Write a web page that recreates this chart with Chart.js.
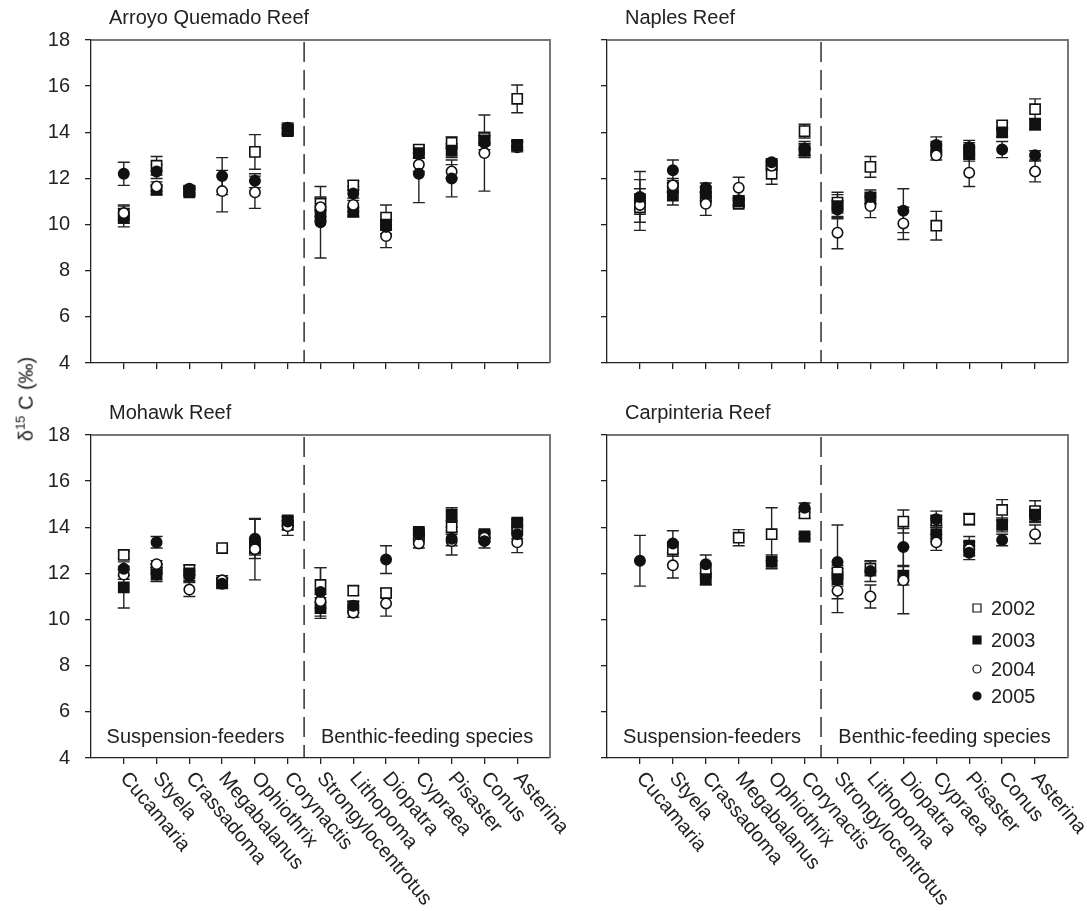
<!DOCTYPE html>
<html>
<head>
<meta charset="utf-8">
<script src="https://cdn.jsdelivr.net/npm/chart.js@4.4.0/dist/chart.umd.min.js"></script>
<style>
  body { margin: 0; background: #fff; }
  #wrap { position: relative; width: 1087px; height: 911px; overflow: hidden; }
  canvas { position: absolute; }
  #ylab {
    position: absolute; left: 25px; top: 399px;
    transform: translate(-50%, -50%) rotate(-90deg);
    font: 20px "Liberation Sans", Arial, sans-serif; color: #222; white-space: nowrap;
  }
  #ylab sup { font-size: 13px; }
</style>
</head>
<body>
<div id="wrap">
  <canvas id="c1" width="580" height="400" style="left:0;top:0"></canvas>
  <canvas id="c2" width="500" height="400" style="left:587px;top:0"></canvas>
  <canvas id="c3" width="580" height="516" style="left:0;top:395px"></canvas>
  <canvas id="c4" width="500" height="516" style="left:587px;top:395px"></canvas>
  <div id="ylab">&delta;<sup>15</sup> C (&permil;)</div>
</div>
<script>
// --------------------------------------------------
const species = ["Cucamaria", "Styela", "Crassadoma", "Megabalanus", "Ophiothrix", "Corynactis",
  "Strongylocentrotus", "Lithopoma", "Diopatra", "Cypraea", "Pisaster", "Conus", "Asterina"];
const years = ["2002", "2003", "2004", "2005"];
const yTicks = [4, 6, 8, 10, 12, 14, 16, 18];

// Arroyo Quemado Reef
const aq2002 = [10.45, 12.55, 11.45, null, 13.15, 14.1, 10.9, 11.7, 10.3, 13.25, 13.55, 13.75, 15.45];
const aq2002e = [0.4, 0.4, 0.15, null, 0.75, 0.2, 0.3, 0.2, 0.55, 0.15, 0.25, 0.25, 0.6];
const aq2003 = [10.3, 11.5, 11.4, null, null, 14.05, 10.4, 10.55, 10.0, 13.1, 13.2, 13.65, 13.45];
const aq2003e = [0.4, 0.2, 0.15, null, null, 0.15, 0.25, 0.2, 0.2, 0.2, 0.3, 0.2, 0.2];
const aq2004 = [10.5, 11.65, 11.5, 11.45, 11.4, 14.15, 10.75, 10.85, 9.5, 12.6, 12.3, 13.1, 13.35];
const aq2004e = [0.3, 0.2, 0.15, 0.9, 0.7, 0.2, 0.4, 0.3, 0.5, 0.3, 0.3, 1.65, 0.2];
const aq2005 = [12.2, 12.3, 11.55, 12.1, 11.9, 14.2, 10.1, 11.35, 9.9, 12.2, 12.0, 13.55, 13.4];
const aq2005e = [0.5, 0.3, 0.15, 0.8, 0.3, 0.2, 1.55, 0.3, 0.3, 1.25, 0.8, 0.3, 0.2];

// Naples Reef
const np2002 = [10.75, 11.6, 11.2, 10.9, 12.2, 14.05, 10.95, 12.5, null, 9.95, 13.25, 14.3, 15.0];
const np2002e = [0.3, 0.2, 0.2, 0.15, 0.45, 0.3, 0.45, 0.45, null, 0.62, 0.3, 0.15, 0.45];
const np2003 = [11.1, 11.25, 11.35, 11.0, 12.6, 13.2, 10.8, 11.15, null, 13.3, 13.05, 14.0, 14.35];
const np2003e = [0.45, 0.4, 0.3, 0.15, 0.15, 0.3, 0.5, 0.25, null, 0.3, 0.3, 0.2, 0.25];
const np2004 = [10.85, 11.7, 10.9, 11.6, 12.55, 13.25, 9.65, 10.8, 10.05, 13.0, 12.25, null, 12.3];
const np2004e = [1.1, 0.3, 0.5, 0.45, 0.2, 0.25, 0.7, 0.5, 0.7, 0.2, 0.6, null, 0.45];
const np2005 = [11.2, 12.35, 11.6, 11.05, 12.7, 13.3, 10.65, 11.2, 10.6, 13.45, 13.35, 13.25, 13.0];
const np2005e = [1.1, 0.45, 0.2, 0.2, 0.15, 0.3, 0.4, 0.3, 0.95, 0.35, 0.3, 0.35, 0.2];

// Mohawk Reef
const mh2002 = [12.8, 12.2, 12.15, 13.1, 13.1, 14.1, 11.5, 11.25, 11.15, 13.6, 14.0, 13.6, 14.0];
const mh2002e = [0.15, 0.2, 0.2, 0.1, 0.3, 0.2, 0.75, 0.2, 0.2, 0.2, 0.3, 0.2, 0.3];
const mh2003 = [11.4, 11.95, 12.0, 11.6, 13.2, 14.3, 10.5, 10.55, null, 13.8, 14.55, 13.7, 14.2];
const mh2003e = [0.9, 0.3, 0.35, 0.2, 0.3, 0.15, 0.45, 0.25, null, 0.15, 0.3, 0.15, 0.15];
const mh2004 = [11.95, 12.4, 11.3, 11.7, 13.05, 14.05, 10.8, 10.3, 10.7, 13.3, 13.4, 13.55, 13.35];
const mh2004e = [0.2, 0.15, 0.3, 0.2, 1.33, 0.4, 0.3, 0.2, 0.55, 0.2, 0.6, 0.2, 0.45];
const mh2005 = [12.2, 13.35, 11.9, 11.55, 13.5, 14.25, 11.2, 10.6, 12.6, 13.7, 13.5, 13.4, 13.7];
const mh2005e = [0.3, 0.25, 0.2, 0.2, 0.85, 0.2, 1.05, 0.2, 0.6, 0.2, 0.3, 0.3, 0.2];

// Carpinteria Reef
const cp2002 = [null, 13.05, 12.1, 13.55, 13.7, 14.6, 12.05, 12.2, 14.25, 14.3, 14.35, 14.75, 14.7];
const cp2002e = [null, 0.3, 0.3, 0.35, 1.15, 0.2, 0.3, 0.3, 0.5, 0.2, 0.25, 0.45, 0.45];
const cp2003 = [null, null, 11.75, null, 12.5, 13.6, 11.75, null, 11.9, 13.7, 13.2, 14.1, 14.55];
const cp2003e = [null, null, 0.25, null, 0.3, 0.1, 0.3, null, 0.4, 0.3, 0.4, 0.3, 0.3];
const cp2004 = [null, 12.35, null, null, null, null, 11.25, 11.0, 11.7, 13.35, 13.05, null, 13.7];
const cp2004e = [null, 0.55, null, null, null, null, 0.95, 0.5, 1.45, 0.35, 0.3, null, 0.4];
const cp2005 = [12.55, 13.3, 12.4, null, null, 14.85, 12.5, 12.1, 13.15, 14.35, 12.9, 13.45, 14.5];
const cp2005e = [1.1, 0.55, 0.4, null, null, 0.2, 1.6, 0.45, 0.8, 0.35, 0.3, 0.25, 0.3];

// --------------------------------------------------
Chart.defaults.font.family = '"Liberation Sans", Arial, sans-serif';
Chart.defaults.font.size = 20;
Chart.defaults.color = "#222";

const ink = "#111";
const styles = [
  { pointStyle: "rect", radius: 7.2, fill: "#fff" },
  { pointStyle: "rect", radius: 7.2, fill: ink },
  { pointStyle: "circle", radius: 5.2, fill: "#fff" },
  { pointStyle: "circle", radius: 5.2, fill: ink },
];

function points(vals, errs) {
  return vals
    .map((v, i) => (v === null ? null : { x: i, y: v, e: errs[i] }))
    .filter((p) => p);
}

// error bars drawn behind the markers
const errorBars = {
  id: "errorBars",
  beforeDatasetsDraw(chart) {
    const { ctx, scales } = chart;
    ctx.save();
    ctx.strokeStyle = "#222";
    ctx.lineWidth = 1.4;
    chart.data.datasets.forEach((ds) => {
      ds.data.forEach((p) => {
        if (!p.e) return;
        const px = scales.x.getPixelForValue(p.x);
        const top = scales.y.getPixelForValue(p.y + p.e);
        const bot = scales.y.getPixelForValue(p.y - p.e);
        ctx.beginPath();
        ctx.moveTo(px, top); ctx.lineTo(px, bot);
        ctx.moveTo(px - 6, top); ctx.lineTo(px + 6, top);
        ctx.moveTo(px - 6, bot); ctx.lineTo(px + 6, bot);
        ctx.stroke();
      });
    });
    ctx.restore();
  },
};

// frame, divider, title, group names, species labels, legend
const panelDecor = {
  id: "panelDecor",
  beforeDatasetsDraw(chart, args, opts) {
    const { ctx, chartArea: a, scales } = chart;
    ctx.save();
    ctx.strokeStyle = "#777";
    ctx.lineWidth = 2;
    ctx.beginPath();
    ctx.moveTo(a.left, a.top); ctx.lineTo(a.right, a.top); ctx.lineTo(a.right, a.bottom);
    ctx.stroke();
    const dx = scales.x.getPixelForValue(5.5);
    ctx.strokeStyle = "#222";
    ctx.lineWidth = 1.4;
    ctx.setLineDash([20, 8]);
    ctx.beginPath();
    ctx.moveTo(dx, a.top + 2); ctx.lineTo(dx, a.bottom);
    ctx.stroke();
    ctx.restore();
  },
  afterDraw(chart, args, opts) {
    const { ctx, chartArea: a, scales } = chart;
    ctx.save();
    ctx.fillStyle = "#222";
    ctx.font = '20px "Liberation Sans", Arial, sans-serif';
    ctx.textBaseline = "middle";
    ctx.textAlign = "left";
    ctx.fillText(opts.title, a.left + 18, a.top - 22);

    if (opts.bottom) {
      const dx = scales.x.getPixelForValue(5.5);
      ctx.textAlign = "center";
      ctx.fillText("Suspension-feeders", (a.left + dx) / 2 - 2, a.bottom - 21);
      ctx.fillText("Benthic-feeding species", (dx + a.right) / 2, a.bottom - 21);

      ctx.textAlign = "left";
      species.forEach((name, i) => {
        const px = scales.x.getPixelForValue(i);
        ctx.save();
        ctx.translate(px, a.bottom + 17);
        ctx.rotate((50 * Math.PI) / 180);
        ctx.fillText(name, 0, 0);
        ctx.restore();
      });
    }

    if (opts.legend) {
      const rows = [a.bottom - 150, a.bottom - 118, a.bottom - 89, a.bottom - 62];
      years.forEach((yr, k) => {
        const mx = a.right - 91, my = rows[k];
        ctx.lineWidth = 1.2;
        ctx.strokeStyle = ink;
        ctx.fillStyle = styles[k].fill;
        ctx.beginPath();
        if (styles[k].pointStyle === "rect") ctx.rect(mx - 4, my - 4, 8, 8);
        else ctx.arc(mx, my, 4, 0, Math.PI * 2);
        ctx.fill();
        ctx.stroke();
        ctx.fillStyle = "#222";
        ctx.fillText(yr, a.right - 77, my + 1);
      });
    }
    ctx.restore();
  },
};

function makePanel(id, title, series, o) {
  const datasets = series.map(([vals, errs], k) => ({
    label: years[k],
    data: points(vals, errs),
    pointStyle: styles[k].pointStyle,
    pointRadius: styles[k].radius,
    pointBackgroundColor: styles[k].fill,
    pointBorderColor: ink,
    pointBorderWidth: 1.6,
    showLine: false,
    order: 3 - k,
  }));

  return new Chart(document.getElementById(id), {
    type: "scatter",
    data: { datasets },
    plugins: [errorBars, panelDecor],
    options: {
      responsive: false,
      animation: false,
      events: [],
      layout: { autoPadding: false, padding: { top: 40, right: o.padRight, left: 0, bottom: 0 } },
      plugins: {
        legend: { display: false },
        tooltip: { enabled: false },
        panelDecor: { title, bottom: o.bottom, legend: o.legend },
      },
      scales: {
        x: {
          type: "linear",
          min: -1,
          max: 13,
          afterBuildTicks: (s) => { s.ticks = species.map((_, i) => ({ value: i })); },
          afterFit: (s) => { s.height = o.xHeight; },
          ticks: { display: false },
          grid: { drawOnChartArea: false, tickLength: 6, color: "#222", lineWidth: 1.3 },
          border: { color: "#222", width: 1.3 },
        },
        y: {
          type: "linear",
          min: 4,
          max: 18,
          afterBuildTicks: (s) => { s.ticks = yTicks.map((v) => ({ value: v })); },
          afterFit: (s) => { s.width = o.yWidth; },
          ticks: { display: o.yLabels, padding: 15, color: "#222" },
          grid: { drawOnChartArea: false, tickLength: 6, color: "#222", lineWidth: 1.3 },
          border: { color: "#222", width: 1.3 },
        },
      },
    },
  });
}

makePanel("c1", "Arroyo Quemado Reef",
  [[aq2002, aq2002e], [aq2003, aq2003e], [aq2004, aq2004e], [aq2005, aq2005e]],
  { padRight: 30, xHeight: 37, yWidth: 91, yLabels: true, bottom: false, legend: false });

makePanel("c2", "Naples Reef",
  [[np2002, np2002e], [np2003, np2003e], [np2004, np2004e], [np2005, np2005e]],
  { padRight: 19, xHeight: 37, yWidth: 20, yLabels: false, bottom: false, legend: false });

makePanel("c3", "Mohawk Reef",
  [[mh2002, mh2002e], [mh2003, mh2003e], [mh2004, mh2004e], [mh2005, mh2005e]],
  { padRight: 30, xHeight: 153, yWidth: 91, yLabels: true, bottom: true, legend: false });

makePanel("c4", "Carpinteria Reef",
  [[cp2002, cp2002e], [cp2003, cp2003e], [cp2004, cp2004e], [cp2005, cp2005e]],
  { padRight: 19, xHeight: 153, yWidth: 20, yLabels: false, bottom: true, legend: true });
</script>
</body>
</html>
